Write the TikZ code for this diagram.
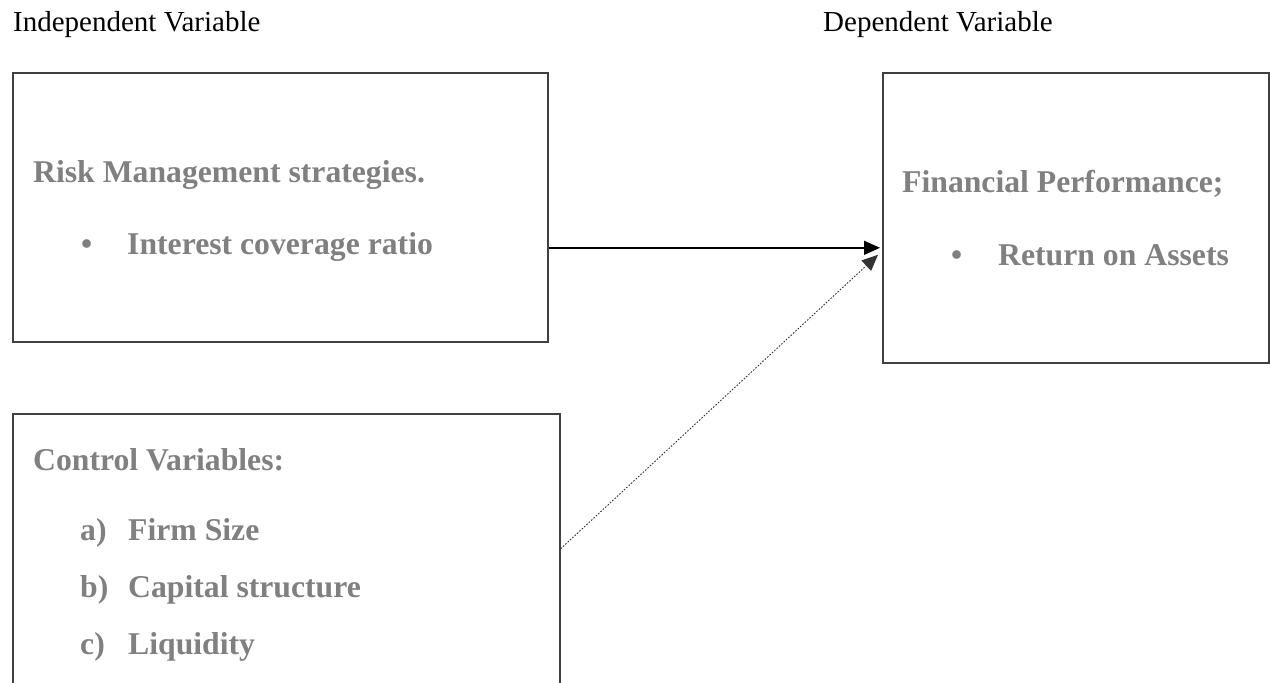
\documentclass[tikz,border=0pt]{standalone}
\usepackage{fontspec}
\setmainfont{Liberation Serif}
\usetikzlibrary{arrows.meta}
\definecolor{labelgray}{RGB}{128,128,128}

\begin{document}
\begin{tikzpicture}[x = 1pt, y = -1pt]
	\tikzstyle{boxStyle} = [draw = black!75, line width = 1.6pt, inner sep = 0pt, anchor = north west]
	\tikzstyle{headStyle} = [anchor = base west, inner sep = 0pt, font = \fontsize{29}{34}\selectfont]
	\tikzstyle{itemStyle} = [anchor = base west, inner sep = 0pt, text = labelgray, font = \fontsize{31.7}{38}\selectfont\bfseries]
	\tikzstyle{solidLink} = [-{Triangle[length = 16pt, width = 14pt]}, line width = 1.6pt]
	\tikzstyle{dottedLink} = [-{Triangle[length = 16pt, width = 14pt]}, line width = 0.9pt, black!80, dash pattern = on 1.6pt off 1.6pt]
	\useasboundingbox (0,0) rectangle (1270,683);
	\clip (0,0) rectangle (1270,683);
	\fill[white] (0,0) rectangle (1270,683);
	% headings
	\node[headStyle] (indep) at (13,31) {Independent Variable};
	\node[headStyle] (dep) at (823,31) {Dependent Variable};
	% boxes
	\node[boxStyle, minimum width = 535pt, minimum height = 269pt] (risk) at (12,72) {};
	\node[boxStyle, minimum width = 386pt, minimum height = 290pt] (perf) at (882,72) {};
	\node[boxStyle, minimum width = 547pt, minimum height = 282pt] (ctrl) at (12,413) {};
	% box texts
	\node[itemStyle] (riskTitle) at (33,182) {Risk Management strategies.};
	\node[itemStyle] (riskBullet) at (81,254) {\textbullet};
	\node[itemStyle] (riskItem) at (127,254) {Interest coverage ratio};
	\node[itemStyle] (perfTitle) at (902,192) {Financial Performance;};
	\node[itemStyle] (perfBullet) at (951,265) {\textbullet};
	\node[itemStyle] (perfItem) at (998,265) {Return on Assets};
	\node[itemStyle] (ctrlTitle) at (33,470) {Control Variables:};
	\node[itemStyle] (ctrlA) at (80,540) {a)};
	\node[itemStyle] (ctrlSize) at (128,540) {Firm Size};
	\node[itemStyle] (ctrlB) at (80,597) {b)};
	\node[itemStyle] (ctrlCap) at (128,597) {Capital structure};
	\node[itemStyle] (ctrlC) at (80,654) {c)};
	\node[itemStyle] (ctrlLiq) at (128,654) {Liquidity};
	% links
	\draw[solidLink] ([yshift = -40.5pt]risk.east) -- ([xshift = -2pt, yshift = -30pt]perf.west);
	\draw[dottedLink] ([yshift = 6pt]ctrl.east) -- ([xshift = -4pt, yshift = -37pt]perf.west);
\end{tikzpicture}
\end{document}
